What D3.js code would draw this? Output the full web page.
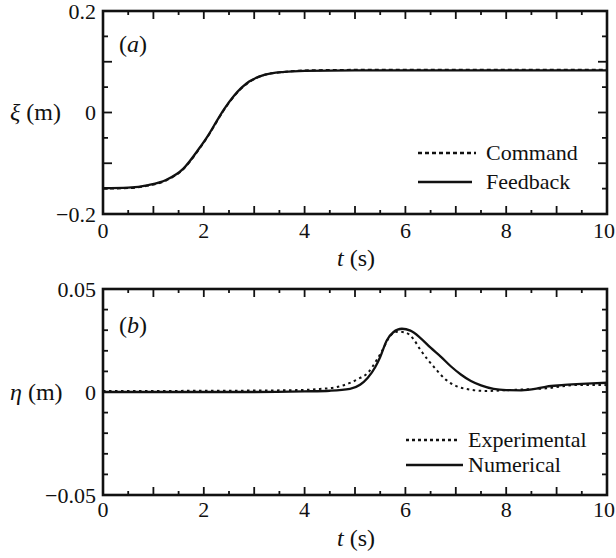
<!DOCTYPE html>
<html><head><meta charset="utf-8">
<script src="https://cdn.jsdelivr.net/npm/d3@7"></script>
<style>body{margin:0;background:#fff}svg{display:block}</style>
</head><body>
<script>
// ---- data ----
const xTicks = [0, 2, 4, 6, 8, 10];
const xiTicks = [-0.2, 0, 0.2];
const etaTicks = [-0.05, 0, 0.05];

const tFeedback = [0,0.5,0.9,1.25,1.6,1.9,2.1,2.25,2.4,2.6,2.9,3.2,3.6,4.0,5,6,7,8,9,10];
const xiFeedback = [-0.149,-0.148,-0.143,-0.133,-0.110,-0.072,-0.043,-0.018,0.006,0.033,0.061,0.074,0.080,0.082,0.083,0.083,0.083,0.083,0.083,0.083];
const tCommand = [0,0.5,0.9,1.25,1.6,1.9,2.1,2.25,2.4,2.6,2.9,3.2,3.6,4.0,5,6,7,8,9,10];
const xiCommand = [-0.150,-0.149,-0.144,-0.134,-0.111,-0.073,-0.044,-0.019,0.005,0.032,0.060,0.074,0.080,0.083,0.084,0.084,0.084,0.084,0.084,0.084];

const tNumerical = [0,1,2,3,4,4.5,4.9,5.1,5.25,5.4,5.5,5.63,5.76,5.93,6.1,6.3,6.5,6.7,6.9,7.1,7.3,7.5,7.75,8,8.3,8.6,8.8,9.1,9.4,9.7,10];
const etaNumerical = [0,0,0,0,0.0003,0.0006,0.0015,0.0035,0.0068,0.012,0.017,0.025,0.029,0.0307,0.0298,0.0262,0.0215,0.0172,0.0125,0.0085,0.0053,0.0032,0.0015,0.0009,0.0008,0.0016,0.0026,0.0033,0.0038,0.0042,0.0045];
const tExperimental = [0,1,2,3,4,4.3,4.6,4.9,5.1,5.25,5.43,5.56,5.69,5.85,6.0,6.15,6.3,6.45,6.6,6.8,7.0,7.2,7.6,8.1,8.8,9.4,9.9,10];
const etaExperimental = [0.0005,0.0005,0.0006,0.0007,0.001,0.0015,0.0022,0.0044,0.0068,0.0092,0.0155,0.021,0.027,0.0293,0.0289,0.026,0.0204,0.0155,0.0112,0.0060,0.0030,0.0015,0.0005,0.001,0.0018,0.0034,0.0034,0.0033];

// ---- pick an installed serif font ----
function pickFont() {
  const c = document.createElement("canvas").getContext("2d");
  const s = "Command Feedback 0.05 mmmWWiil";
  c.font = "40px monospace"; const wm = c.measureText(s).width;
  c.font = "40px sans-serif"; const ws = c.measureText(s).width;
  const cands = ["Liberation Serif", "Times New Roman", "Tinos", "DejaVu Serif", "Noto Serif", "Times", "FreeSerif"];
  for (const f of cands) {
    c.font = `40px '${f}', monospace`; const a = c.measureText(s).width;
    c.font = `40px '${f}', sans-serif`; const b = c.measureText(s).width;
    if (Math.abs(a - wm) > 0.5 && Math.abs(b - ws) > 0.5) return `'${f}'`;
  }
  return "serif";
}
const FONT = pickFont() + ", serif";

// ---- drawing ----
const W = 616, H = 558;
const svg = d3.select("body").append("svg").attr("width", W).attr("height", H)
  .attr("font-family", FONT).style("font-family", FONT);
const FS = 22;

function txt(g) {
  return g.append("text").attr("font-family", FONT).style("font-family", FONT).attr("fill", "#111");
}

function panel(opt) {
  const x = d3.scaleLinear().domain([0, 10]).range([103, 607]);
  const y = d3.scaleLinear().domain(opt.yDomain).range([opt.bottom, opt.top]);
  const g = svg.append("g");
  const x0 = x.range()[0], x1 = x.range()[1], y0 = opt.bottom, y1 = opt.top;

  const xMinor = d3.range(0, 10.001, 0.5);
  xMinor.forEach(v => {
    const len = Math.abs(v - Math.round(v)) < 1e-6 ? 8 : 4;
    g.append("line").attr("x1", x(v)).attr("x2", x(v)).attr("y1", y0).attr("y2", y0 - len).attr("stroke", "#111").attr("stroke-width", 1.8);
    g.append("line").attr("x1", x(v)).attr("x2", x(v)).attr("y1", y1).attr("y2", y1 + len).attr("stroke", "#111").attr("stroke-width", 1.8);
  });
  opt.yMinor.forEach(v => {
    const len = opt.yMajorTest(v) ? 9 : 5;
    g.append("line").attr("x1", x0).attr("x2", x0 + len).attr("y1", y(v)).attr("y2", y(v)).attr("stroke", "#111").attr("stroke-width", 1.8);
    g.append("line").attr("x1", x1).attr("x2", x1 - len).attr("y1", y(v)).attr("y2", y(v)).attr("stroke", "#111").attr("stroke-width", 1.8);
  });

  g.append("rect").attr("x", x0).attr("y", y1).attr("width", x1 - x0).attr("height", y0 - y1)
    .attr("fill", "none").attr("stroke", "#111").attr("stroke-width", 2.6);

  xTicks.forEach((d, i) => {
    const last = i === xTicks.length - 1;
    txt(g).attr("x", last ? 615 : x(d)).attr("y", y0 + opt.xLabelOff)
      .attr("text-anchor", last ? "end" : "middle")
      .attr("font-size", FS).text(d);
  });
  opt.yTicks.forEach(d => {
    txt(g).attr("x", 96).attr("y", y(d)).attr("dy", "0.35em").attr("text-anchor", "end")
      .attr("font-size", FS).text(d < 0 ? "\u2212" + String(-d) : String(d));
  });

  const tx = txt(g).attr("x", 356).attr("y", opt.xTitleY).attr("text-anchor", "middle").attr("font-size", FS + 2);
  tx.append("tspan").attr("font-style", "italic").text("t");
  tx.append("tspan").text(" (s)");
  const ty = txt(g).attr("x", 10).attr("y", y(0)).attr("dy", "0.33em").attr("font-size", FS + 2);
  ty.append("tspan").attr("font-style", "italic").text(opt.yName);
  ty.append("tspan").text(" (m)");

  const pl = txt(g).attr("x", 119).attr("y", opt.letterY).attr("font-size", FS + 2);
  pl.append("tspan").text("(");
  pl.append("tspan").attr("font-style", "italic").text(opt.letter);
  pl.append("tspan").text(")");

  const line = d3.line().x(d => x(d[0])).y(d => y(d[1])).curve(d3.curveMonotoneX);
  opt.series.forEach(s => {
    const pts = s.t.map((t, i) => [t, s.v[i]]);
    g.append("path").attr("d", line(pts)).attr("fill", "none").attr("stroke", "#111")
      .attr("stroke-width", s.dash ? 2 : 2.3).attr("stroke-dasharray", s.dash || null);
  });

  opt.legend.forEach(l => {
    g.append("line").attr("x1", l.x1).attr("x2", l.x2).attr("y1", l.y).attr("y2", l.y)
      .attr("stroke", "#111").attr("stroke-width", l.dash ? 2.4 : 2.6).attr("stroke-dasharray", l.dash || null);
    txt(g).attr("x", l.tx).attr("y", l.y).attr("dy", "0.33em").attr("font-size", FS).text(l.label);
  });
}

panel({
  top: 11, bottom: 214, yDomain: [-0.2, 0.2],
  yTicks: xiTicks, yMinor: d3.range(-0.2, 0.2001, 0.05).map(v => +v.toFixed(3)),
  yMajorTest: v => Math.abs(v * 10 - Math.round(v * 10)) < 1e-6,
  xLabelOff: 24, xTitleY: 266, yName: "\u03be", letter: "a", letterY: 52,
  series: [
    { t: tCommand, v: xiCommand, dash: "4,3" },
    { t: tFeedback, v: xiFeedback }
  ],
  legend: [
    { x1: 418, x2: 476, y: 153, dash: "4,3", tx: 486, label: "Command" },
    { x1: 418, x2: 472, y: 182, tx: 486, label: "Feedback" }
  ]
});

panel({
  top: 289, bottom: 495, yDomain: [-0.05, 0.05],
  yTicks: etaTicks, yMinor: d3.range(-0.05, 0.0501, 0.01).map(v => +v.toFixed(3)),
  yMajorTest: v => false,
  xLabelOff: 22, xTitleY: 546, yName: "\u03b7", letter: "b", letterY: 333,
  series: [
    { t: tExperimental, v: etaExperimental, dash: "2.5,3.5" },
    { t: tNumerical, v: etaNumerical }
  ],
  legend: [
    { x1: 406, x2: 459, y: 440, dash: "3,3", tx: 468, label: "Experimental" },
    { x1: 406, x2: 463, y: 465, tx: 468, label: "Numerical" }
  ]
});
</script>
</body></html>
